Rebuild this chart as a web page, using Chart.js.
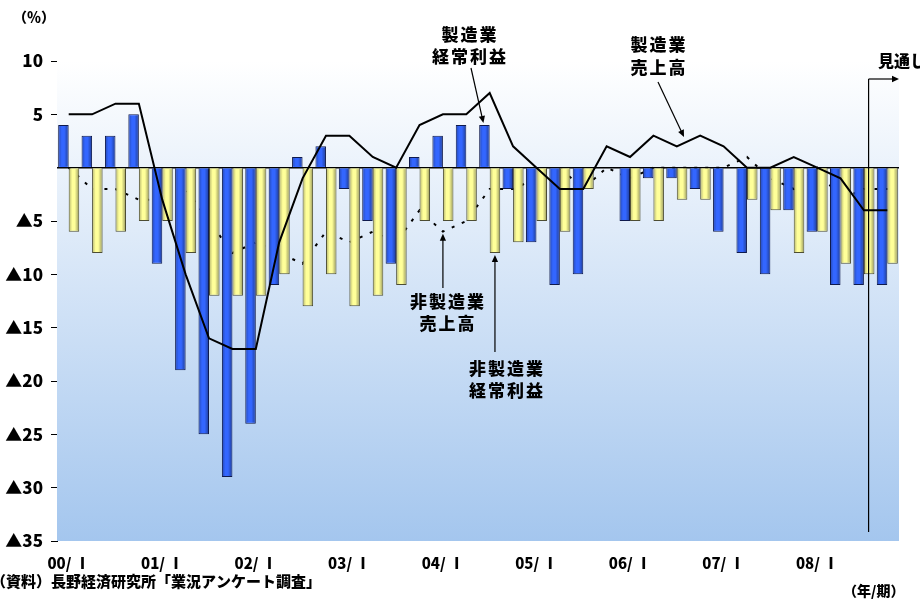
<!DOCTYPE html>
<html lang="ja">
<head>
<meta charset="utf-8">
<title>業況アンケート調査 売上高・経常利益</title>
<style>
  html, body { margin: 0; padding: 0; background: #ffffff; }
  #wrap { width: 920px; height: 601px; position: relative; overflow: hidden; }
  canvas { display: block; }
</style>
<script src="https://cdn.jsdelivr.net/npm/chart.js@4.4.1/dist/chart.umd.min.js"></script>
</head>
<body>
<div id="wrap"><canvas id="chart" width="920" height="601"></canvas></div>
<script>
// Quarters 2000/Ⅰ – 2008/Ⅳ
const categories = [
  '00/Ⅰ','00/Ⅱ','00/Ⅲ','00/Ⅳ','01/Ⅰ','01/Ⅱ','01/Ⅲ','01/Ⅳ',
  '02/Ⅰ','02/Ⅱ','02/Ⅲ','02/Ⅳ','03/Ⅰ','03/Ⅱ','03/Ⅲ','03/Ⅳ',
  '04/Ⅰ','04/Ⅱ','04/Ⅲ','04/Ⅳ','05/Ⅰ','05/Ⅱ','05/Ⅲ','05/Ⅳ',
  '06/Ⅰ','06/Ⅱ','06/Ⅲ','06/Ⅳ','07/Ⅰ','07/Ⅱ','07/Ⅲ','07/Ⅳ',
  '08/Ⅰ','08/Ⅱ','08/Ⅲ','08/Ⅳ'
];

// Year tick labels shown under each first quarter
const yearTicks = ['00/ Ⅰ','01/ Ⅰ','02/ Ⅰ','03/ Ⅰ','04/ Ⅰ','05/ Ⅰ','06/ Ⅰ','07/ Ⅰ','08/ Ⅰ'];

// 製造業 経常利益 (DI, %)
const mfgProfit = [4,3,3,5,-9,-19,-25,-29,-24,-11,1,2,-2,-5,-9,1,3,4,4,-2,-7,-11,-10,0,-5,-1,-1,-2,-6,-8,-10,-4,-6,-11,-11,-11];
// 非製造業 経常利益
const nonMfgProfit = [-6,-8,-6,-5,-5,-8,-12,-12,-12,-10,-13,-10,-13,-12,-11,-5,-5,-5,-8,-7,-5,-6,-2,0,-5,-5,-3,-3,0,-3,-4,-8,-6,-9,-10,-9];
// 製造業 売上高
const mfgSales = [5,5,6,6,-3,-10,-16,-17,-17,-7,-1,3,3,1,0,4,5,5,7,2,0,-2,-2,2,1,3,2,3,2,0,0,1,0,-1,-4,-4];
// 非製造業 売上高
const nonMfgSales = [0,-2,-2,-3,-3,-2,-5,-8,-7,-8,-9,-6,-7,-6,-7,-4,-6,-5,-2,-2,-1,0,-2,0,-1,0,0,0,0,1,-1,-2,0,-3,-2,-2];

const JP_FONT = "'Noto Sans CJK JP', 'Noto Sans', sans-serif";

// Plot area: white at the top fading into light blue at the bottom
const plotBackground = {
  id: 'plotBackground',
  beforeDatasetsDraw(chart) {
    const { ctx, chartArea: a } = chart;
    const g = ctx.createLinearGradient(0, a.top, 0, a.bottom);
    g.addColorStop(0, '#ffffff');
    g.addColorStop(1, '#a4c6ee');
    ctx.save();
    ctx.fillStyle = g;
    ctx.fillRect(a.left, a.top, a.right - a.left, a.bottom - a.top);
    // zero line
    const y0 = chart.scales.y.getPixelForValue(0);
    ctx.strokeStyle = '#000';
    ctx.lineWidth = 1.5;
    ctx.beginPath();
    ctx.moveTo(a.left, y0);
    ctx.lineTo(a.right, y0);
    ctx.stroke();
    ctx.restore();
  }
};

// Cylindrical shading inside each bar
const barShade = {
  id: 'barShade',
  afterDatasetDraw(chart, args) {
    const meta = args.meta;
    if (meta.type !== 'bar') return;
    const ctx = chart.ctx;
    ctx.save();
    meta.data.forEach(el => {
      const p = el.getProps(['x', 'y', 'base', 'width'], true);
      const h = Math.abs(p.base - p.y);
      if (h < 2) return;
      const left = p.x - p.width / 2 + 1;
      const w = p.width - 2;
      const top = Math.min(p.y, p.base) + 1;
      const g = ctx.createLinearGradient(left, 0, left + w, 0);
      g.addColorStop(0, 'rgba(0,0,0,0.22)');
      g.addColorStop(0.3, 'rgba(0,0,0,0)');
      g.addColorStop(0.6, 'rgba(0,0,0,0)');
      g.addColorStop(1, 'rgba(0,0,0,0.32)');
      ctx.fillStyle = g;
      ctx.fillRect(left, top, w, h - 2);
    });
    ctx.restore();
  }
};

function arrow(ctx, x1, y1, x2, y2, head) {
  const ang = Math.atan2(y2 - y1, x2 - x1);
  ctx.beginPath();
  ctx.moveTo(x1, y1);
  ctx.lineTo(x2 - Math.cos(ang) * head * 0.8, y2 - Math.sin(ang) * head * 0.8);
  ctx.stroke();
  ctx.beginPath();
  ctx.moveTo(x2, y2);
  ctx.lineTo(x2 - head * Math.cos(ang) + head * 0.45 * Math.sin(ang), y2 - head * Math.sin(ang) - head * 0.45 * Math.cos(ang));
  ctx.lineTo(x2 - head * Math.cos(ang) - head * 0.45 * Math.sin(ang), y2 - head * Math.sin(ang) + head * 0.45 * Math.cos(ang));
  ctx.closePath();
  ctx.fill();
}

function label2(ctx, lines, cx, cy, gap) {
  lines.forEach((t, i) => ctx.fillText(t, cx, cy + i * gap));
}

// Series captions, unit, source and outlook marker
const annotations = {
  id: 'annotations',
  afterDraw(chart) {
    const { ctx, scales: { x, y } } = chart;
    const blue = chart.getDatasetMeta(1).data;
    const yellow = chart.getDatasetMeta(2).data;
    ctx.save();
    ctx.fillStyle = '#000';
    ctx.strokeStyle = '#000';
    ctx.lineWidth = 1.2;
    ctx.textAlign = 'center';
    ctx.textBaseline = 'middle';
    ctx.font = `900 17px ${JP_FONT}`;
    ctx.letterSpacing = '2px';

    // 製造業 経常利益 -> 04/Ⅲ blue bar
    label2(ctx, ['製造業', '経常利益'], 470, 35, 22);
    arrow(ctx, 471, 68, blue[18].x - 1, y.getPixelForValue(mfgProfit[18]) - 2, 7);

    // 製造業 売上高 -> solid line
    label2(ctx, ['製造業', '売上高'], 659, 45, 23);
    arrow(ctx, 658, 82, 684, 137, 7);

    // 非製造業 売上高 -> dotted line at 04/Ⅰ
    label2(ctx, ['非製造業', '売上高'], 448, 302, 22);
    arrow(ctx, x.getPixelForValue(16), 288, x.getPixelForValue(16), y.getPixelForValue(nonMfgSales[16]) + 2, 7);

    // 非製造業 経常利益 -> 04/Ⅲ yellow bar
    label2(ctx, ['非製造業', '経常利益'], 507, 369, 22);
    arrow(ctx, yellow[18].x, 352, yellow[18].x, y.getPixelForValue(nonMfgProfit[18]) + 2, 7);

    // 見通し (outlook) marker
    const xo = x.getPixelForValue(34) + 0.2 * (x.getPixelForValue(35) - x.getPixelForValue(34));
    ctx.beginPath();
    ctx.moveTo(xo, 79);
    ctx.lineTo(xo, 532);
    ctx.stroke();
    arrow(ctx, xo, 79, 899, 79, 7);
    ctx.textAlign = 'left';
    ctx.font = `900 16px ${JP_FONT}`;
    ctx.letterSpacing = '0px';
    ctx.fillText('見通し', 878, 61);

    // unit and footers
    ctx.font = `900 14px ${JP_FONT}`;
    ctx.fillText('（％）', 13, 17);
    ctx.font = `900 15px ${JP_FONT}`;
    ctx.fillText('（資料）長野経済研究所「業況アンケート調査」', -9, 581);
    ctx.font = `900 14px ${JP_FONT}`;
    ctx.fillText('（年/期）', 843, 591);
    ctx.restore();
  }
};

new Chart(document.getElementById('chart'), {
  type: 'bar',
  data: {
    labels: categories,
    datasets: [
      {
        type: 'line',
        label: '非製造業売上高',
        data: nonMfgSales,
        borderColor: '#000000',
        borderWidth: 2,
        borderDash: [3, 8],
        pointRadius: 0,
        tension: 0,
        fill: false,
        order: 3
      },
      {
        type: 'bar',
        label: '製造業経常利益',
        data: mfgProfit,
        backgroundColor: '#3366ff',
        borderColor: '#0f1a4d',
        borderWidth: 1,
        categoryPercentage: 0.9,
        barPercentage: 1.0,
        order: 2
      },
      {
        type: 'bar',
        label: '非製造業経常利益',
        data: nonMfgProfit,
        backgroundColor: '#ffff99',
        borderColor: '#4d4d33',
        borderWidth: 1,
        categoryPercentage: 0.9,
        barPercentage: 1.0,
        order: 2
      },
      {
        type: 'line',
        label: '製造業売上高',
        data: mfgSales,
        borderColor: '#000000',
        borderWidth: 2,
        pointRadius: 0,
        tension: 0,
        fill: false,
        order: 1
      }
    ]
  },
  options: {
    responsive: false,
    animation: false,
    devicePixelRatio: 1,
    layout: { padding: { left: 0, right: 21, top: 61, bottom: 16 } },
    plugins: {
      legend: { display: false },
      tooltip: { enabled: false }
    },
    scales: {
      x: {
        offset: true,
        grid: { display: false, drawTicks: false },
        border: { display: false },
        ticks: {
          autoSkip: false,
          maxRotation: 0,
          minRotation: 0,
          padding: 13,
          color: '#000000',
          font: { family: JP_FONT, size: 15, weight: 900 },
          callback: (v, i) => (i % 4 === 0 ? yearTicks[i / 4] : '')
        }
      },
      y: {
        min: -35,
        max: 10,
        ticks: {
          stepSize: 5,
          padding: 8,
          color: '#000000',
          font: { family: JP_FONT, size: 17, weight: 900 },
          callback: v => (v === 0 ? '' : (v < 0 ? '▲' + (-v) : String(v)))
        },
        grid: {
          drawOnChartArea: false,
          tickLength: 6,
          tickColor: c => (c.tick && c.tick.value === 0 ? 'rgba(0,0,0,0)' : '#000000')
        },
        border: { display: true, color: '#000000', width: 1 },
        afterFit: s => { s.width = 57; }
      }
    }
  },
  plugins: [plotBackground, barShade, annotations]
});
</script>
</body>
</html>
